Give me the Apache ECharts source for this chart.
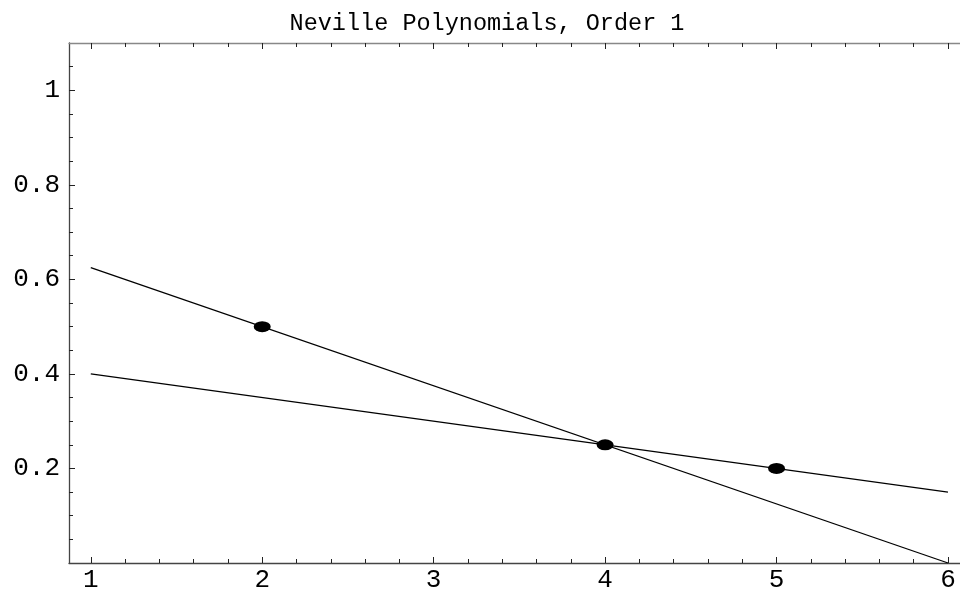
<!DOCTYPE html>
<html>
<head>
<meta charset="utf-8">
<script src="https://cdn.jsdelivr.net/npm/echarts@6/dist/echarts.min.js"></script>
<style>html,body{margin:0;padding:0;background:#fff}#c{width:960px;height:596px}</style>
</head>
<body>
<div id="c"></div>
<script>
var titleText = 'Neville Polynomials, Order 1';
var xMajor = [1, 2, 3, 4, 5, 6];
var xMinor = [1.2, 1.4, 1.6, 1.8, 2.2, 2.4, 2.6, 2.8, 3.2, 3.4, 3.6, 3.8, 4.2, 4.4, 4.6, 4.8, 5.2, 5.4, 5.6, 5.8];
var yMajor = [0.2, 0.4, 0.6, 0.8, 1];
var yMinor = [0.05, 0.1, 0.15, 0.25, 0.3, 0.35, 0.45, 0.5, 0.55, 0.65, 0.7, 0.75, 0.85, 0.9, 0.95, 1.05];
var line1X = [1, 6];
var line1Y = [0.625, 0];
var line2X = [1, 6];
var line2Y = [0.4, 0.15];
var pointsX = [2, 4, 5];
var pointsY = [0.5, 0.25, 0.2];

var X_MIN = 0.873, X_MAX = 6.07, Y_MIN = 0, Y_MAX = 1.1;
var FONT = 'Liberation Mono';

function zip(a, b) { return a.map(function (v, i) { return [v, b[i]]; }); }

function xAx(pos, ticks, len, color, showLine, showLabel) {
  return {
    type: 'value', position: pos, min: X_MIN, max: X_MAX,
    splitLine: { show: false },
    axisLine: { show: showLine, onZero: false, lineStyle: { color: color, width: 1.3 } },
    axisTick: { show: true, inside: true, length: len, customValues: ticks, lineStyle: { color: '#222', width: 1 } },
    axisLabel: { show: showLabel, customValues: ticks, margin: 4, color: '#000', fontFamily: FONT, fontSize: 26,
      formatter: function (v) { return String(Math.round(v * 100) / 100); } }
  };
}
function yAx(pos, ticks, len, color, showLine, showLabel) {
  return {
    type: 'value', position: pos, min: Y_MIN, max: Y_MAX,
    splitLine: { show: false },
    axisLine: { show: showLine, onZero: false, lineStyle: { color: color, width: 1.3 } },
    axisTick: { show: true, inside: true, length: len, customValues: ticks, lineStyle: { color: '#222', width: 1 } },
    axisLabel: { show: showLabel, customValues: ticks, margin: 9, color: '#000', fontFamily: FONT, fontSize: 26,
      formatter: function (v) { return String(Math.round(v * 100) / 100); } }
  };
}

var chart = echarts.init(document.getElementById('c'), null, { renderer: 'canvas' });
chart.setOption({
  animation: false,
  backgroundColor: '#fff',
  title: { text: titleText, left: 482, textAlign: 'center', top: 7,
    textStyle: { fontFamily: FONT, fontSize: 23.5, fontWeight: 'normal', color: '#000' } },
  grid: { left: 69, right: 0, top: 43, bottom: 33, containLabel: false },
  xAxis: [
    xAx('bottom', xMajor, 6, '#444', true, true),
    xAx('bottom', xMinor, 4, '#444', false, false),
    xAx('top', xMajor, 6, '#888', true, false),
    xAx('top', xMinor, 4, '#888', false, false)
  ],
  yAxis: [
    yAx('left', yMajor, 6, '#444', true, true),
    yAx('left', yMinor, 4, '#444', false, false)
  ],
  series: [
    { type: 'line', data: zip(line1X, line1Y), showSymbol: false, symbol: 'none', lineStyle: { color: '#000', width: 1.3 }, silent: true },
    { type: 'line', data: zip(line2X, line2Y), showSymbol: false, symbol: 'none', lineStyle: { color: '#000', width: 1.3 }, silent: true },
    { type: 'scatter', data: zip(pointsX, pointsY), symbol: 'circle', symbolSize: [17, 11], itemStyle: { color: '#000', opacity: 1 }, z: 5 }
  ]
});
</script>
</body>
</html>
